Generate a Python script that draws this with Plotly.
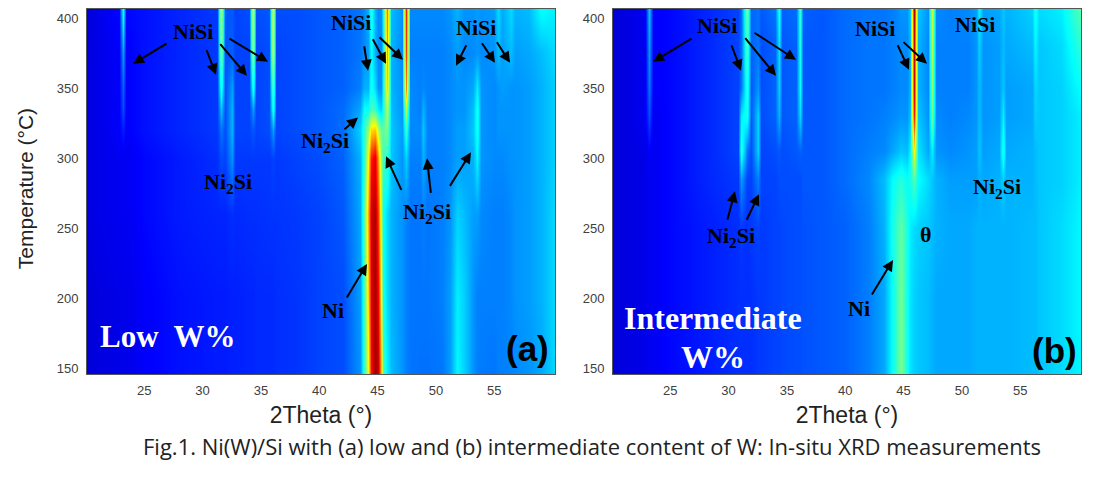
import plotly.graph_objects as go

# the page keeps an 8 px body margin, so the figure is drawn smaller and shifted
W, H = 1102, 479
MARGIN = 8

# MATLAB style jet
jet = [[0, "rgb(0,0,143)"], [0.125, "rgb(0,0,255)"], [0.375, "rgb(0,255,255)"],
       [0.625, "rgb(255,255,0)"], [0.875, "rgb(255,0,0)"], [1, "rgb(128,0,0)"]]

# panel (a), intensities on a coarse grid
theta_a = [20.1, 21, 22.85, 23.15, 23.45, 25, 28, 31.28, 31.6, 31.92, 32.5, 32.8,
           33.98, 34.3, 34.62, 35.68, 36, 36.32, 38, 40, 42,
           43.5, 43.85, 44.15, 44.45, 44.75, 45.05, 45.3, 45.5, 45.8, 46.12, 47.05, 47.4, 47.75, 48.6, 48.9, 49.2,
           50.5, 51.2, 51.8, 52.4, 53.15, 53.5, 53.85, 54.98, 55.3, 55.62, 56.4, 56.75, 58, 59, 60.2]
temp_a = [146, 200, 260, 300, 320, 335, 350, 375, 406]
a_146 = [.08,.09,.10,.10,.10,.12,.14,.15,.15,.15,.155,.155,.16,.16,.165,.165,.165,.17,.175,.19,.20,
         .27,.42,.60,.87,.97,.93,.70,.44,.36,.31,.27,.25,.24,.235,.235,.235,
         .24,.28,.37,.33,.27,.25,.245,.24,.25,.25,.255,.26,.27,.29,.34]
a_200 = [.08,.09,.10,.10,.10,.12,.14,.15,.15,.15,.155,.155,.16,.16,.165,.165,.165,.17,.175,.19,.20,
         .28,.44,.66,.90,.97,.88,.62,.40,.34,.30,.27,.25,.24,.24,.24,.24,
         .25,.28,.36,.33,.27,.25,.25,.25,.25,.25,.26,.27,.28,.30,.34]
a_260 = [.09,.10,.11,.11,.11,.13,.15,.16,.16,.16,.17,.165,.17,.17,.17,.175,.175,.175,.18,.19,.21,
         .29,.46,.70,.92,.96,.82,.55,.39,.34,.30,.27,.25,.24,.24,.25,.24,
         .25,.27,.33,.31,.28,.28,.26,.25,.25,.25,.26,.27,.28,.30,.34]
a_300 = [.09,.10,.11,.11,.11,.13,.15,.17,.20,.19,.27,.18,.18,.18,.18,.18,.19,.18,.19,.20,.22,
         .30,.42,.62,.85,.90,.72,.52,.43,.43,.32,.27,.33,.25,.25,.30,.25,
         .25,.26,.28,.28,.30,.37,.27,.26,.26,.26,.27,.27,.28,.30,.33]
a_320 = [.09,.10,.12,.15,.12,.14,.16,.18,.24,.20,.30,.19,.19,.21,.19,.20,.28,.19,.20,.21,.23,
         .33,.42,.52,.66,.68,.56,.47,.46,.50,.32,.28,.42,.26,.26,.32,.25,
         .25,.26,.28,.28,.32,.40,.27,.26,.27,.27,.27,.27,.28,.30,.33]
a_335 = [.09,.10,.12,.20,.12,.14,.16,.18,.32,.20,.30,.19,.19,.28,.19,.20,.42,.19,.20,.21,.23,
         .29,.38,.38,.45,.42,.36,.33,.40,.56,.31,.27,.55,.26,.25,.30,.25,
         .25,.26,.27,.27,.31,.40,.27,.26,.27,.27,.27,.27,.28,.30,.33]
a_350 = [.09,.10,.12,.22,.12,.14,.16,.18,.42,.20,.28,.19,.19,.42,.19,.20,.48,.19,.20,.21,.22,
         .25,.30,.30,.40,.34,.27,.27,.38,.66,.30,.27,.74,.26,.25,.26,.25,
         .25,.26,.27,.27,.29,.36,.27,.26,.27,.28,.27,.27,.28,.30,.33]
a_375 = [.09,.10,.12,.28,.12,.14,.16,.18,.52,.20,.22,.19,.19,.56,.19,.20,.60,.19,.20,.21,.22,
         .24,.26,.28,.38,.30,.26,.26,.36,.72,.30,.26,.82,.25,.25,.25,.25,
         .25,.26,.28,.26,.26,.27,.26,.27,.31,.28,.31,.28,.29,.31,.34]
a_406 = [.08,.10,.13,.40,.13,.14,.16,.18,.58,.21,.21,.19,.20,.60,.20,.21,.62,.20,.20,.21,.22,
         .24,.26,.30,.42,.30,.26,.27,.38,.76,.31,.27,.85,.26,.26,.26,.26,
         .26,.27,.30,.27,.27,.28,.27,.28,.34,.29,.34,.30,.31,.38,.36]

# panel (b)
theta_b = [20.1, 21, 22.88, 23.2, 23.52, 25, 28, 30.78, 31.1, 31.6, 31.9, 32.5, 32.8,
           33.98, 34.3, 34.62, 35.78, 36.1, 36.42, 38, 40, 42,
           43.3, 44.05, 44.8, 45.3, 45.55, 45.9, 46.25, 47.05, 47.4, 47.75,
           49, 50.5, 51.2, 51.5, 51.8, 53.2, 53.5, 53.8, 56.0, 56.3, 56.6, 58.5, 60.2]
temp_b = [146, 200, 250, 285, 305, 330, 350, 380, 406]
b_146 = [.08,.09,.10,.11,.11,.13,.15,.17,.17,.17,.17,.18,.18,.19,.19,.195,.20,.20,.205,.21,.22,.25,
         .29,.39,.50,.39,.35,.33,.32,.31,.30,.29,
         .29,.29,.30,.30,.30,.30,.30,.30,.31,.31,.32,.34,.37]
b_200 = [.08,.09,.10,.11,.11,.13,.15,.17,.17,.17,.17,.18,.18,.19,.19,.195,.20,.20,.205,.21,.22,.25,
         .29,.39,.49,.39,.35,.33,.32,.31,.30,.29,
         .29,.29,.30,.30,.30,.30,.30,.30,.31,.31,.32,.34,.37]
b_250 = [.08,.09,.10,.11,.11,.13,.15,.17,.18,.17,.18,.19,.18,.19,.19,.195,.20,.20,.205,.21,.22,.25,
         .30,.40,.47,.40,.36,.34,.33,.32,.31,.30,
         .29,.29,.30,.30,.30,.30,.30,.30,.31,.31,.32,.34,.37]
b_285 = [.08,.09,.10,.11,.11,.13,.16,.18,.28,.19,.19,.25,.19,.19,.20,.20,.20,.20,.21,.21,.23,.26,
         .31,.38,.41,.38,.40,.45,.38,.34,.32,.30,
         .28,.28,.28,.30,.29,.30,.33,.30,.30,.31,.32,.33,.36]
b_305 = [.08,.09,.10,.12,.11,.13,.16,.19,.42,.24,.20,.33,.19,.20,.21,.20,.21,.22,.21,.21,.23,.25,
         .26,.29,.32,.31,.37,.62,.35,.29,.36,.27,
         .26,.27,.28,.32,.28,.29,.42,.29,.30,.31,.32,.33,.36]
b_330 = [.08,.09,.11,.20,.11,.13,.16,.19,.36,.40,.21,.33,.20,.22,.30,.21,.22,.34,.21,.21,.23,.24,
         .25,.26,.27,.27,.32,.85,.32,.27,.48,.26,
         .25,.26,.27,.31,.27,.28,.36,.28,.29,.33,.32,.33,.36]
b_350 = [.08,.09,.11,.24,.12,.13,.16,.19,.24,.42,.21,.27,.20,.22,.33,.21,.22,.38,.21,.21,.23,.24,
         .24,.25,.26,.26,.30,.92,.30,.26,.52,.25,
         .25,.25,.27,.31,.27,.28,.32,.28,.29,.34,.32,.33,.38]
b_380 = [.08,.09,.11,.28,.12,.13,.16,.19,.23,.46,.22,.24,.20,.22,.35,.21,.22,.40,.21,.21,.23,.24,
         .24,.25,.26,.26,.31,.92,.30,.26,.56,.25,
         .25,.25,.27,.33,.27,.28,.31,.29,.31,.37,.32,.34,.42]
b_406 = [.08,.09,.11,.32,.12,.13,.16,.19,.23,.50,.22,.24,.21,.24,.40,.22,.23,.42,.22,.21,.23,.24,
         .24,.25,.27,.27,.33,.95,.32,.27,.58,.26,
         .25,.26,.28,.37,.28,.29,.32,.30,.33,.40,.34,.36,.46]

x_ticks = [25, 30, 35, 40, 45, 50, 55]
y_ticks = [150, 200, 250, 300, 350, 400]
caption = "Fig.1. Ni(W)/Si with (a) low and (b) intermediate content of W: In-situ XRD measurements"

# labels and arrows were placed by eye, in page pixels
ni2si = "Ni<sub>2</sub>Si"
labels = [("NiSi", 193, 32), ("NiSi", 351, 23), ("NiSi", 476, 28), (ni2si, 325, 143),
          (ni2si, 228, 184), (ni2si, 427, 214), ("Ni", 333, 312),
          ("NiSi", 717, 26), ("NiSi", 875, 29), ("NiSi", 975, 25), (ni2si, 997, 189),
          (ni2si, 731, 238), ("θ", 925, 235), ("Ni", 859, 310)]
arrows = [(168, 43, 133, 64), (206, 49, 216, 75), (219, 43, 247, 76), (228, 38, 268, 62),
          (364, 45, 368, 71), (372, 38, 386, 64), (378, 36, 403, 60),
          (467, 44, 456, 66), (481, 42, 495, 63), (496, 41, 510, 63),
          (343, 131, 358, 118), (402, 192, 386, 157), (431, 195, 427, 159),
          (449, 188, 471, 153), (346, 300, 367, 265),
          (693, 38, 653, 62), (731, 44, 741, 71), (744, 37, 776, 76), (753, 32, 796, 60),
          (897, 44, 909, 70), (902, 41, 927, 64),
          (727, 222, 735, 192), (746, 222, 759, 195), (871, 297, 893, 261)]

FIG_W = W - 2 * MARGIN
FIG_H = H - 2 * MARGIN


def px(x):
    return (x - MARGIN) / FIG_W


def py(y):
    return 1 - (y - MARGIN) / FIG_H


def note(text, x, y, size, color="black", family="Liberation Serif", bold=True, angle=0):
    if bold:
        text = "<b>" + text + "</b>"
    return dict(text=text, x=px(x), y=py(y), xref="paper", yref="paper", showarrow=False,
                xanchor="center", yanchor="middle", textangle=angle,
                font=dict(family=family, size=size, color=color))


fig = go.Figure()
fig.add_trace(go.Heatmap(x=theta_a, y=temp_a,
                         z=[a_146, a_200, a_260, a_300, a_320, a_335, a_350, a_375, a_406],
                         colorscale=jet, zmin=0, zmax=1, zsmooth="best", showscale=False,
                         xaxis="x", yaxis="y"))
fig.add_trace(go.Heatmap(x=theta_b, y=temp_b,
                         z=[b_146, b_200, b_250, b_285, b_305, b_330, b_350, b_380, b_406],
                         colorscale=jet, zmin=0, zmax=1, zsmooth="best", showscale=False,
                         xaxis="x2", yaxis="y2"))

x_style = dict(range=[20.1, 60.2], tickvals=x_ticks, ticks="outside", ticklen=4, tickcolor="white",
               showgrid=False, zeroline=False, showline=True, mirror=True, linecolor="#555555",
               tickfont=dict(family="Liberation Sans", size=13, color="#404040"),
               title=dict(text="2Theta (°)", standoff=9,
                          font=dict(family="Liberation Sans", size=23, color="#222222")))
y_style = dict(range=[145.7, 406.4], tickvals=y_ticks, ticks="outside", ticklen=5, tickcolor="white",
               showgrid=False, zeroline=False, showline=True, mirror=True, linecolor="#555555",
               tickfont=dict(family="Liberation Sans", size=13, color="#404040"))

annotations = [note(t, x, y, 22) for t, x, y in labels]
for x0, y0, x1, y1 in arrows:
    annotations.append(dict(text="", x=px(x1), y=py(y1), xref="paper", yref="paper", showarrow=True,
                            ax=x0 - x1, ay=y0 - y1, axref="pixel", ayref="pixel", arrowcolor="black",
                            arrowhead=2, arrowsize=1.1, arrowwidth=2, standoff=0))
annotations += [
    note("Low  W%", 168, 338, 31, color="white"),
    note("Intermediate", 713, 319, 32, color="white"),
    note("W%", 713, 359, 32, color="white"),
    note("(a)", 527, 350, 35, family="Liberation Sans"),
    note("(b)", 1054, 352, 35, family="Liberation Sans"),
    note("Temperature (°C)", 25, 190, 21, color="#222222", family="Liberation Sans", bold=False, angle=-90),
    note(caption, 592, 448, 22, color="#222222", family="Open Sans", bold=False),
]

fig.update_layout(
    width=FIG_W, height=FIG_H, margin=dict(l=0, r=0, t=0, b=0), paper_bgcolor="white", plot_bgcolor="white",
    xaxis=dict(domain=[px(87), px(555)], anchor="y", **x_style),
    yaxis=dict(domain=[py(376), py(9)], anchor="x", **y_style),
    xaxis2=dict(domain=[px(613), px(1081)], anchor="y2", **x_style),
    yaxis2=dict(domain=[py(376), py(9)], anchor="x2", **y_style),
    annotations=annotations,
)

fig.write_html("out.html")
